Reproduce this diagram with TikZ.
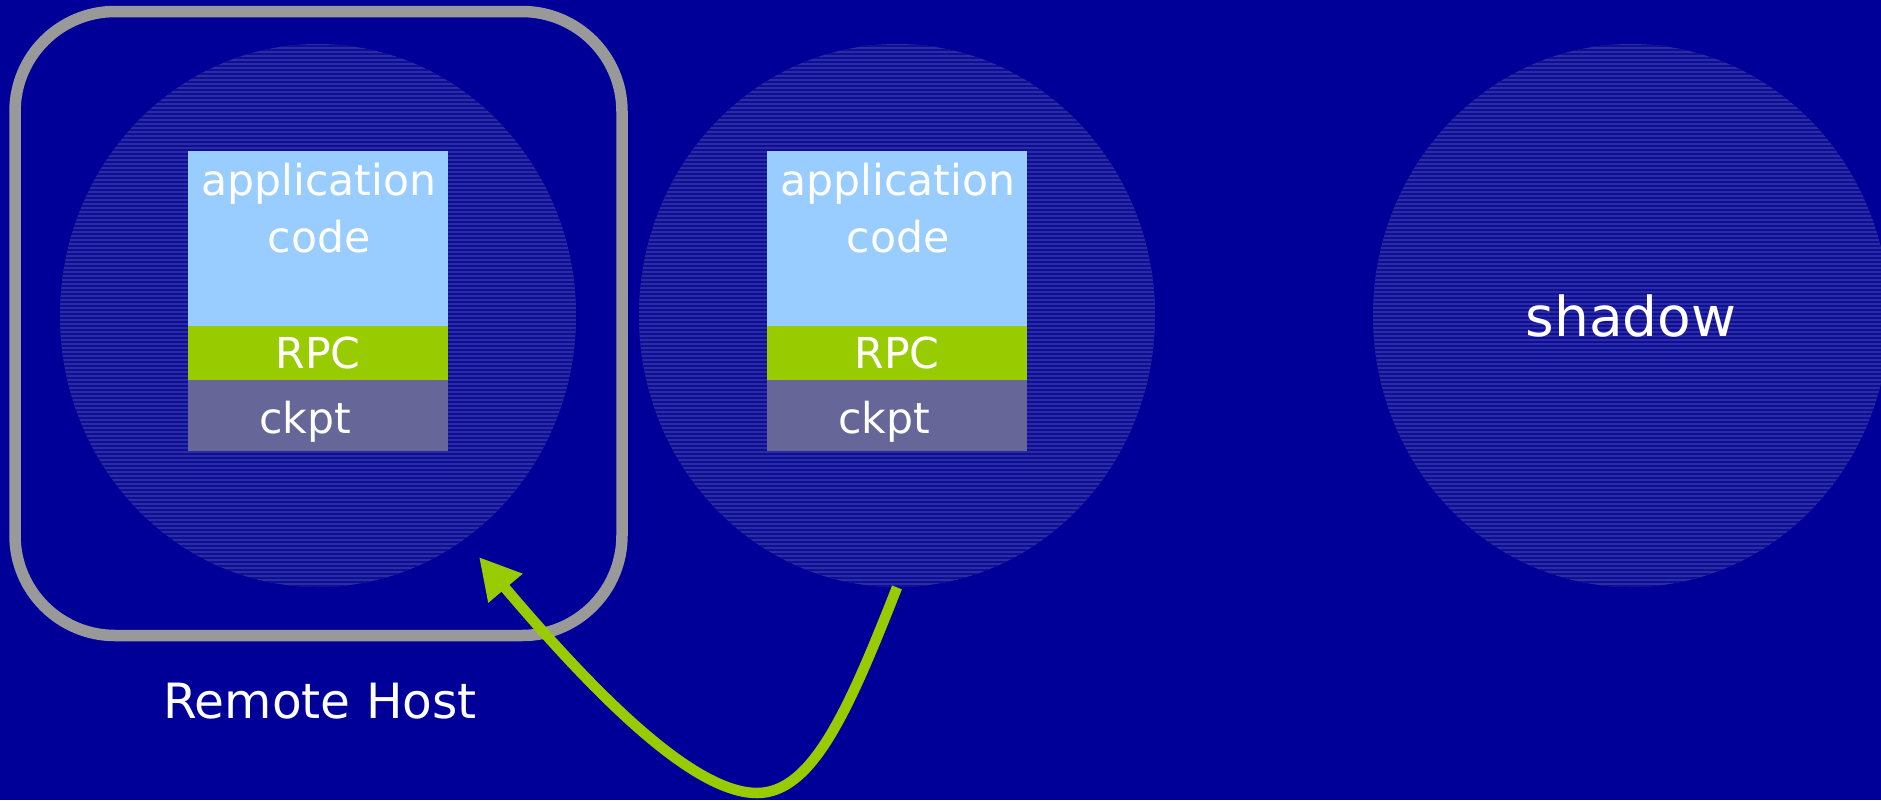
\documentclass[tikz,border=0pt]{standalone}
\usepackage{fontspec}
\setmainfont{DejaVu Sans}
\usetikzlibrary{arrows.meta,shapes.geometric}

\definecolor{slidebg}{RGB}{0,0,153}
\definecolor{disc}{RGB}{44,44,162}
\definecolor{discline}{RGB}{14,14,150}
\definecolor{appblue}{RGB}{153,204,255}
\definecolor{rpcgreen}{RGB}{153,204,0}
\definecolor{ckptgrey}{RGB}{102,102,153}
\definecolor{hostgrey}{RGB}{153,153,153}

\begin{document}
\begin{tikzpicture}[x=0.5pt,y=-0.5pt,
  % a machine: striped disc
  machine/.style={ellipse, minimum width=258pt, minimum height=271.5pt,
    inner sep=0pt, fill=disc, text=white,
    font=\fontsize{27.5pt}{33pt}\selectfont,
    path picture={
      \foreach \k in {0,...,137}{
        \draw[discline,line width=0.6pt]
          ([yshift=-\k*2pt-1pt]path picture bounding box.north west) --
          ([yshift=-\k*2pt-1pt]path picture bounding box.north east);}}},
  layer/.style={rectangle, minimum width=130pt, inner sep=0pt, outer sep=0pt},
  appbox/.style={layer, fill=appblue, minimum height=87.5pt},
  rpcbox/.style={layer, fill=rpcgreen, minimum height=27pt},
  ckptbox/.style={layer, fill=ckptgrey, minimum height=35.5pt},
  lbl/.style={text=white, inner sep=0pt, font=\fontsize{21.3pt}{28.5pt}\selectfont},
  hostbox/.style={draw=hostgrey, line width=5.75pt, rounded corners=50pt,
    minimum width=303.5pt, minimum height=312pt, inner sep=0pt},
  hostlabel/.style={text=white, inner sep=0pt, font=\fontsize{24.3pt}{29pt}\selectfont},
  flow/.style={draw=rpcgreen, line width=5.25pt,
    -{Triangle[length=20.5pt,width=21pt]}}
]
\fill[slidebg] (0,0) rectangle (1881,800);
\useasboundingbox (0,0) rectangle (1881,800);
\clip (0,0) rectangle (1881,800);

% remote host frame
\node[hostbox] (host) at (318.5,323.5) {};
\node[hostlabel, anchor=base] (hostname) at (320,718) {Remote Host};

% machines
\node[machine] (m1) at (318,315.5) {};
\node[machine] (m2) at (897,315.5) {};
\node[machine] (m3) at (1631,315.5) {shadow};

% process stack on the remote host
\node[appbox]  (app1)  at (318,238.5) {};
\node[rpcbox]  (rpc1)  at (318,353)   {};
\node[ckptbox] (ckpt1) at (318,415.5) {};
\node[lbl, align=center, anchor=north] (app1t) at (319,163) {application\\code};
\node[lbl, anchor=base] (ckpt1t) at (305,433) {ckpt};
\path (rpc1) node[lbl] (rpc1t) {RPC};

% process stack on the submitting machine
\node[appbox]  (app2)  at (897,238.5) {};
\node[rpcbox]  (rpc2)  at (897,353)   {};
\node[ckptbox] (ckpt2) at (897,415.5) {};
\node[lbl, align=center, anchor=north] (app2t) at (898,163) {application\\code};
\node[lbl, anchor=base] (ckpt2t) at (884,433) {ckpt};
\path (rpc2) node[lbl] (rpc2t) {RPC};

% migration arrow
\coordinate (hit) at (479,557);
\draw[flow] (m2.south) .. controls (848,712) and (812,793) .. (757,793)
  .. controls (695,793) and (600,700) .. (hit);
\end{tikzpicture}
\end{document}
